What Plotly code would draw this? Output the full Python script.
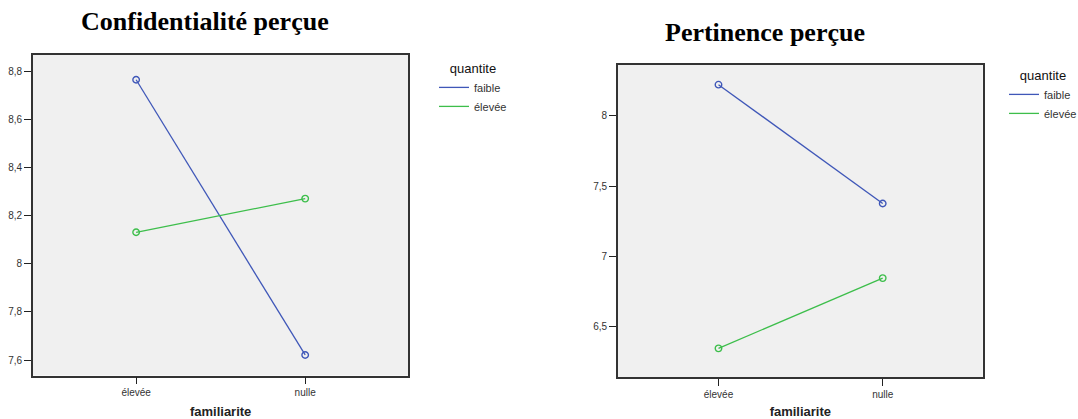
import plotly.graph_objects as go

familiarite = ["élevée", "nulle"]
quantite = ["faible", "élevée"]
conf_faible = [8.765, 7.621]
conf_elevee = [8.131, 8.271]
pert_faible = [8.223, 7.377]
pert_elevee = [6.346, 6.846]

BLUE = "#3F57B8"
GREEN = "#3DBE4B"
W, H = 1078, 419

fig = go.Figure()

def add(xaxis, yaxis, yvals, name, color, legend):
    # line (with legend entry)
    fig.add_trace(go.Scatter(
        x=familiarite, y=yvals, name=name, mode="lines",
        xaxis=xaxis, yaxis=yaxis, legend=legend,
        line=dict(color=color, width=1.3), hoverinfo="skip",
    ))
    # open circle markers (no legend entry)
    fig.add_trace(go.Scatter(
        x=familiarite, y=yvals, name=name, mode="markers", showlegend=False,
        xaxis=xaxis, yaxis=yaxis,
        marker=dict(symbol="circle-open", size=6.5, color=color, line=dict(width=1.4)),
    ))

add("x", "y", conf_faible, quantite[0], BLUE, "legend")
add("x", "y", conf_elevee, quantite[1], GREEN, "legend")
add("x2", "y2", pert_faible, quantite[0], BLUE, "legend2")
add("x2", "y2", pert_elevee, quantite[1], GREEN, "legend2")

axis_common = dict(
    showline=True, mirror=True, linecolor="#333", linewidth=1.8,
    ticks="outside", ticklen=7, tickcolor="#222", tickwidth=1.3,
    showgrid=False, zeroline=False,
    tickfont=dict(family="Liberation Sans, Arial", size=10, color="#333"),
)
xtitle = dict(text="<b>familiarite</b>", font=dict(family="Liberation Sans, Arial", size=13, color="#222"), standoff=12)

legend_common = dict(
    title=dict(text="quantite", side="top center",
               font=dict(family="Liberation Sans, Arial", size=13, color="#111")),
    font=dict(family="Liberation Sans, Arial", size=11, color="#333"),
    bgcolor="rgba(0,0,0,0)", xanchor="left", yanchor="top",
    itemwidth=30, tracegroupgap=0, borderwidth=0,
)

fig.update_layout(
    width=W, height=H,
    margin=dict(l=0, r=0, t=0, b=0, pad=0, autoexpand=False),
    paper_bgcolor="white",
    plot_bgcolor="#F0F0F0",
    separators=", ",
    showlegend=True,
    xaxis=dict(domain=[33 / W, 408.3 / W], range=[-0.61, 1.61], anchor="y", title=xtitle, **axis_common),
    yaxis=dict(domain=[1 - 375.5 / H, 1 - 55 / H], range=[7.5356, 8.868], dtick=0.2, anchor="x", **axis_common),
    xaxis2=dict(domain=[618 / W, 982.7 / W], range=[-0.612, 1.609], anchor="y2", title=xtitle, **axis_common),
    yaxis2=dict(domain=[1 - 377 / H, 1 - 65 / H], range=[6.142, 8.363], dtick=0.5, anchor="x2", **axis_common),
    legend=dict(x=434 / W, y=1 - 56 / H, **legend_common),
    legend2=dict(x=1004 / W, y=1 - 63 / H, **legend_common),
    annotations=[
        dict(text="<b>Confidentialité perçue</b>", x=205 / W, y=1 - 22 / H, xref="paper", yref="paper",
             showarrow=False, xanchor="center", yanchor="middle",
             font=dict(family="Liberation Serif, Times New Roman", size=26, color="black")),
        dict(text="<b>Pertinence perçue</b>", x=765 / W, y=1 - 33 / H, xref="paper", yref="paper",
             showarrow=False, xanchor="center", yanchor="middle",
             font=dict(family="Liberation Serif, Times New Roman", size=26, color="black")),
    ],
)

fig.write_html(
    "out.html",
    config={"displayModeBar": False},
    post_script="document.body.style.margin='0px';document.body.style.overflow='hidden';",
)
